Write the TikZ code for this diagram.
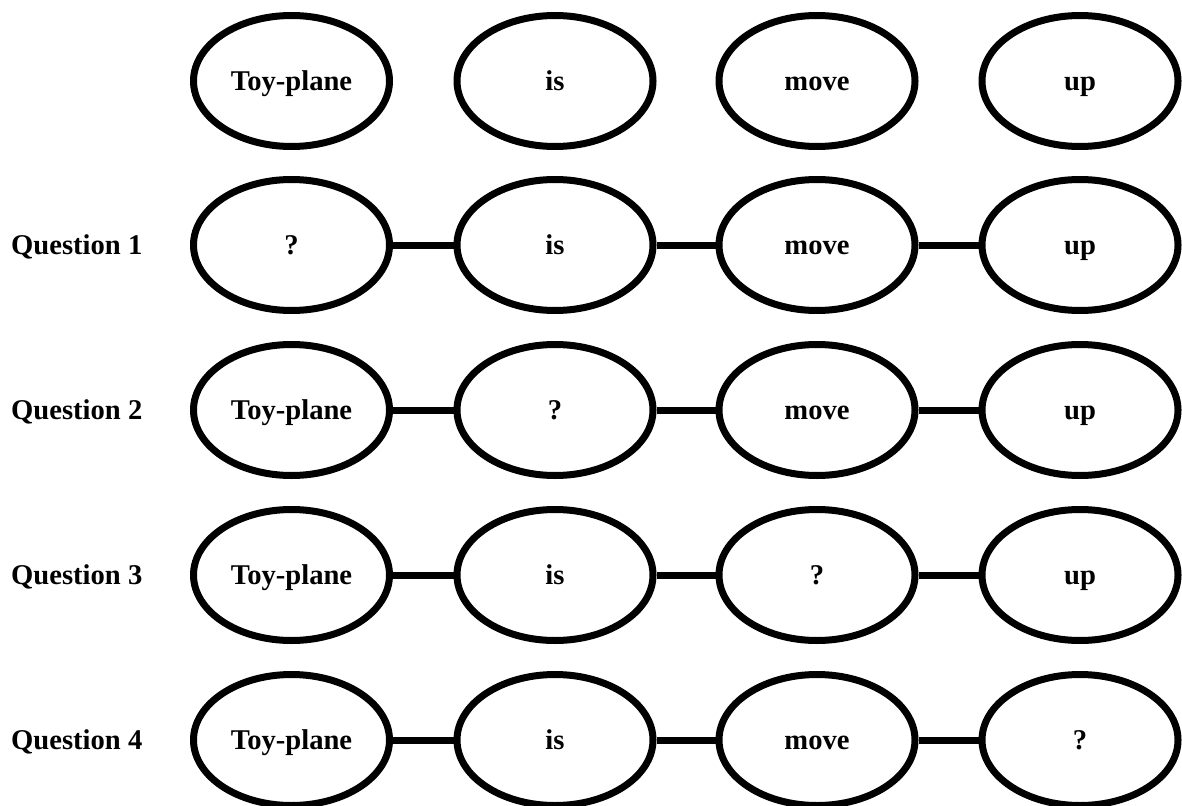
\documentclass[tikz,border=0pt]{standalone}
\usepackage{fontspec}
\setmainfont{Liberation Serif}
\usetikzlibrary{shapes.geometric}
\begin{document}
\begin{tikzpicture}[x=1pt,y=-1pt,
  word/.style={ellipse,draw=black,line width=7pt,minimum width=196pt,minimum height=131pt,inner sep=0pt,text height=19pt,text depth=0pt,font=\fontsize{28.6}{32}\selectfont\bfseries},
  qlabel/.style={anchor=west,inner sep=0pt,text height=19pt,text depth=0pt,font=\fontsize{28.6}{32}\selectfont\bfseries},
  link/.style={line width=7pt}]
\useasboundingbox (0,0) rectangle (1182,805);
% Row 0
\node[word] (r0a) at (291.5,81) {Toy-plane};
\node[word] (r0b) at (555,81) {is};
\node[word] (r0c) at (817,81) {move};
\node[word] (r0d) at (1080,81) {up};
% Row 1
\node[qlabel] (q1) at (11,245) {Question 1};
\node[word] (r1a) at (291.5,245) {?};
\node[word] (r1b) at (555,245) {is};
\node[word] (r1c) at (817,245) {move};
\node[word] (r1d) at (1080,245) {up};
% Row 2
\node[qlabel] (q2) at (11,410) {Question 2};
\node[word] (r2a) at (291.5,410) {Toy-plane};
\node[word] (r2b) at (555,410) {?};
\node[word] (r2c) at (817,410) {move};
\node[word] (r2d) at (1080,410) {up};
% Row 3
\node[qlabel] (q3) at (11,575) {Question 3};
\node[word] (r3a) at (291.5,575) {Toy-plane};
\node[word] (r3b) at (555,575) {is};
\node[word] (r3c) at (817,575) {?};
\node[word] (r3d) at (1080,575) {up};
% Row 4
\node[qlabel] (q4) at (11,740) {Question 4};
\node[word] (r4a) at (291.5,740) {Toy-plane};
\node[word] (r4b) at (555,740) {is};
\node[word] (r4c) at (817,740) {move};
\node[word] (r4d) at (1080,740) {?};
% Connectors
\foreach \r in {1,2,3,4}{
  \draw[link] (r\r a.east) -- (r\r b.west);
  \draw[link] (r\r b.east) -- (r\r c.west);
  \draw[link] (r\r c.east) -- (r\r d.west);
}
\end{tikzpicture}
\end{document}
